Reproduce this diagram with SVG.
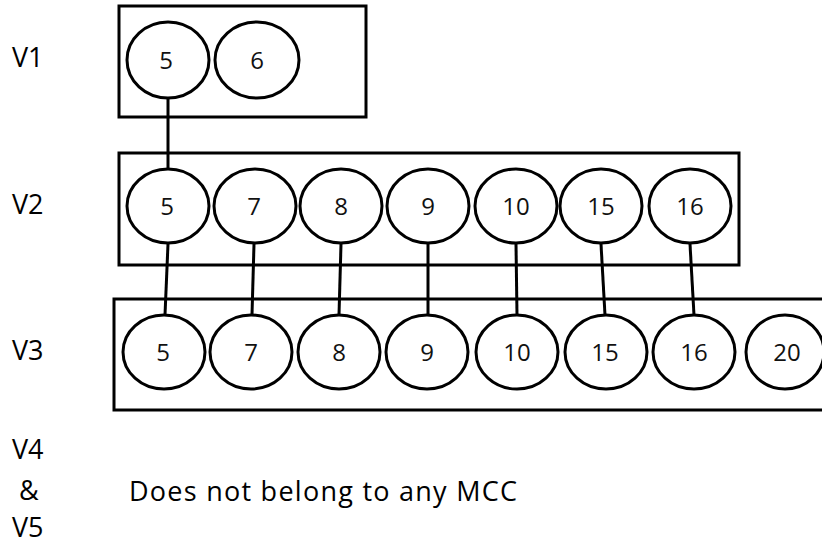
<svg xmlns="http://www.w3.org/2000/svg" width="822" height="545" viewBox="0 0 822 545">
<style>
.box{fill:none;stroke:#000;stroke-width:3}
.n ellipse{fill:#fff;stroke:#000;stroke-width:3}
.n text{font-family:"Open Sans","Liberation Sans",Arial,sans-serif;font-size:24px;fill:#111;text-anchor:middle}
.lbl{font-family:"Open Sans","Liberation Sans",Arial,sans-serif;font-size:27px;fill:#000}
.c line{stroke:#000;stroke-width:3}
</style>
<rect width="822" height="545" fill="#fff"/>
<g id="labels">
<text class="lbl" x="12" y="67">V1</text>
<text class="lbl" x="12" y="214">V2</text>
<text class="lbl" x="12" y="360">V3</text>
<text class="lbl" x="12" y="459">V4</text>
<text class="lbl" x="19" y="500">&amp;</text>
<text class="lbl" x="12" y="537">V5</text>
<text class="lbl" x="129" y="501" textLength="388" lengthAdjust="spacing">Does not belong to any MCC</text>
</g>
<g id="boxes">
<rect id="box-v1" class="box" x="119" y="6" width="247" height="111"/>
<rect id="box-v2" class="box" x="119" y="153" width="620" height="112"/>
<rect id="box-v3" class="box" x="114" y="299" width="720" height="111"/>
</g>
<g id="connectors" class="c">
<line x1="168" y1="98" x2="168" y2="169"/>
<line x1="168" y1="244" x2="165" y2="315"/>
<line x1="254" y1="244" x2="252" y2="315"/>
<line x1="341" y1="244" x2="339" y2="315"/>
<line x1="428" y1="244" x2="428" y2="315"/>
<line x1="516" y1="244" x2="517" y2="315"/>
<line x1="601" y1="244" x2="605" y2="315"/>
<line x1="690" y1="244" x2="694" y2="315"/>
</g>
<g id="v1-5" class="n"><ellipse cx="168" cy="60" rx="41" ry="38"/><text x="166" y="69">5</text></g>
<g id="v1-6" class="n"><ellipse cx="257" cy="60" rx="42" ry="38"/><text x="257" y="69">6</text></g>

<g id="v2-5" class="n"><ellipse cx="168" cy="206" rx="41" ry="37"/><text x="167" y="215">5</text></g>
<g id="v2-7" class="n"><ellipse cx="255" cy="206" rx="41" ry="37"/><text x="254" y="215">7</text></g>
<g id="v2-8" class="n"><ellipse cx="341" cy="206" rx="41" ry="37"/><text x="341" y="215">8</text></g>
<g id="v2-9" class="n"><ellipse cx="428" cy="206" rx="41" ry="37"/><text x="428" y="215">9</text></g>
<g id="v2-10" class="n"><ellipse cx="516" cy="206" rx="41" ry="37"/><text x="516" y="215">10</text></g>
<g id="v2-15" class="n"><ellipse cx="601" cy="206" rx="41" ry="37"/><text x="601" y="215">15</text></g>
<g id="v2-16" class="n"><ellipse cx="690" cy="206" rx="41" ry="37"/><text x="690" y="215">16</text></g>

<g id="v3-5" class="n"><ellipse cx="164" cy="352" rx="41" ry="37"/><text x="163" y="361">5</text></g>
<g id="v3-7" class="n"><ellipse cx="251" cy="352" rx="41" ry="37"/><text x="251" y="361">7</text></g>
<g id="v3-8" class="n"><ellipse cx="339" cy="352" rx="41" ry="37"/><text x="339" y="361">8</text></g>
<g id="v3-9" class="n"><ellipse cx="427" cy="352" rx="41" ry="37"/><text x="427" y="361">9</text></g>
<g id="v3-10" class="n"><ellipse cx="517" cy="352" rx="41" ry="37"/><text x="517" y="361">10</text></g>
<g id="v3-15" class="n"><ellipse cx="606" cy="352" rx="41" ry="37"/><text x="605" y="361">15</text></g>
<g id="v3-16" class="n"><ellipse cx="694" cy="352" rx="41" ry="37"/><text x="694" y="361">16</text></g>
<g id="v3-20" class="n"><ellipse cx="785" cy="352" rx="39" ry="37"/><text x="787" y="361">20</text></g>
</svg>
